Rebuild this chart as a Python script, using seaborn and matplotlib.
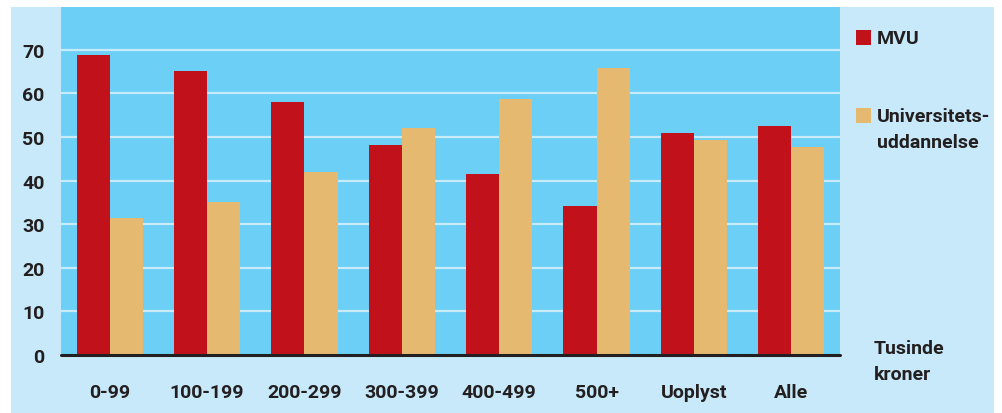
import matplotlib
matplotlib.use("Agg")
import matplotlib.pyplot as plt
import seaborn as sns
import pandas as pd
from matplotlib.patches import Rectangle

# data
categories = ["0-99", "100-199", "200-299", "300-399", "400-499", "500+", "Uoplyst", "Alle"]
mvu = [68.8, 65.1, 58.1, 48.1, 41.4, 34.2, 50.9, 52.4]
universitet = [31.4, 35.1, 41.9, 52.0, 58.8, 65.9, 49.2, 47.7]
series_names = ["MVU", "Universitets-\nuddannelse"]
yticks = [0, 10, 20, 30, 40, 50, 60, 70]

df = pd.DataFrame({
    "kategori": categories * 2,
    "andel": mvu + universitet,
    "serie": [series_names[0]] * len(categories) + [series_names[1]] * len(categories),
})

RED = "#c1121c"
TAN = "#e5b96f"
PLOT_BG = "#6bcff6"
FIG_BG = "#c7e9f9"
TXT = "#231f20"

sns.set_theme(style="white")
plt.rcParams["font.family"] = ["Roboto", "DejaVu Sans"]

W, H = 1002, 414
fig = plt.figure(figsize=(W / 100, H / 100), dpi=100, facecolor="white")
fig.patches.append(Rectangle((11 / W, 0), (994 - 11) / W, (H - 8) / H,
                             transform=fig.transFigure, facecolor=FIG_BG,
                             edgecolor="none", zorder=-5))

ax = fig.add_axes([61 / W, (H - 356) / H, (840 - 61) / W, (356 - 8) / H])
ax.set_facecolor(PLOT_BG)

sns.barplot(data=df, x="kategori", y="andel", hue="serie",
            palette=[RED, TAN], saturation=1, width=0.68, ax=ax,
            legend=False, zorder=3, linewidth=0)

ax.set_xlim(-0.5, len(categories) - 0.5)
ax.set_ylim(0, 79.8)
ax.set_yticks(yticks)
for v in yticks[1:]:
    ax.axhline(v, color="#c8ebfa", lw=1.6, zorder=1)
ax.axhline(0, color=TXT, lw=2.2, zorder=4, clip_on=False)

for s in ax.spines.values():
    s.set_visible(False)
ax.tick_params(axis="both", length=0, colors=TXT, labelsize=14)
ax.tick_params(axis="y", pad=12)
ax.tick_params(axis="x", pad=20)
for lab in ax.get_xticklabels() + ax.get_yticklabels():
    lab.set_fontweight("bold")
ax.set_xlabel("")
ax.set_ylabel("")

# legend drawn by hand: square aligned to the first text line
for color, name, y_top in [(RED, series_names[0], 31), (TAN, series_names[1], 109)]:
    fig.patches.append(Rectangle((856 / W, (H - y_top - 15) / H), 15 / W, 15 / H,
                                 transform=fig.transFigure, facecolor=color,
                                 edgecolor="none"))
    fig.text(877 / W, (H - y_top + 1) / H, name, ha="left", va="top",
             fontsize=14, fontweight="bold", color=TXT, linespacing=1.6)

fig.text(874 / W, (H - 362) / H, "Tusinde\nkroner", ha="left", va="center",
         fontsize=14, fontweight="bold", color=TXT, linespacing=1.6)

fig.savefig("out.png", dpi=100, facecolor=fig.get_facecolor())
